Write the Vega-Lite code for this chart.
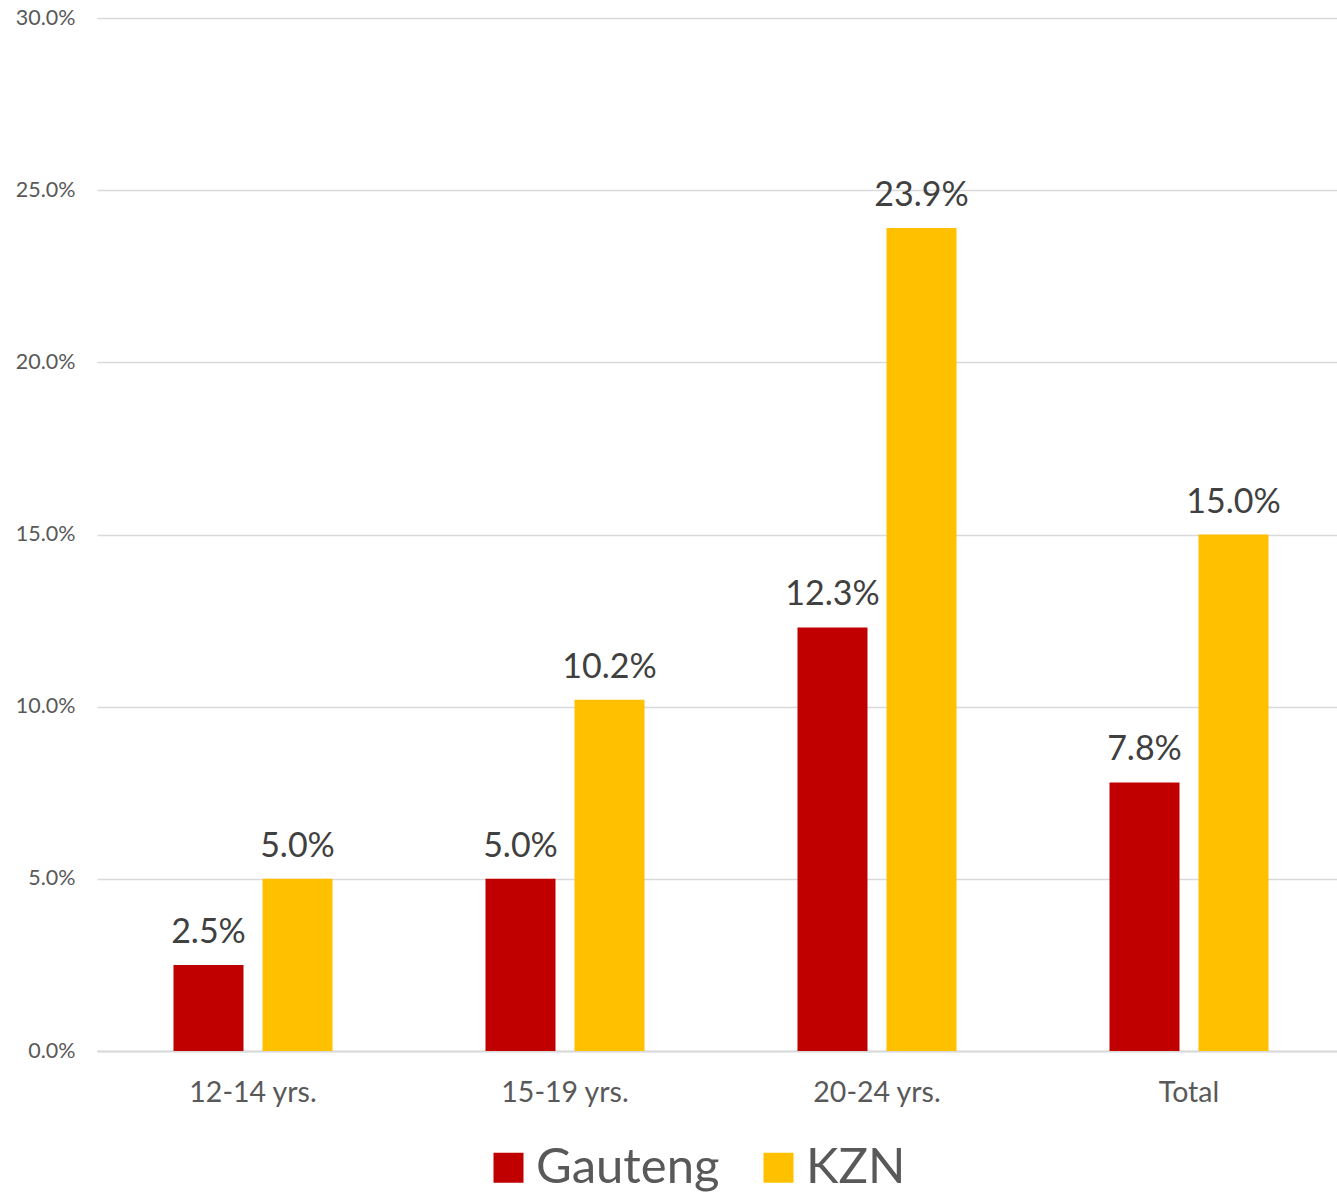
{
  "$schema": "https://vega.github.io/schema/vega-lite/v6.json",
  "width": 1248,
  "height": 1033,
  "autosize": {"type": "none"},
  "padding": {"left": 97, "top": 18, "right": 0, "bottom": 141},
  "background": "white",
  "config": {
    "view": {"stroke": null},
    "font": "Lato"
  },
  "data": {
    "values": [
      {"age": "12-14 yrs.", "region": "Gauteng", "value": 0.025},
      {"age": "12-14 yrs.", "region": "KZN", "value": 0.050},
      {"age": "15-19 yrs.", "region": "Gauteng", "value": 0.050},
      {"age": "15-19 yrs.", "region": "KZN", "value": 0.102},
      {"age": "20-24 yrs.", "region": "Gauteng", "value": 0.123},
      {"age": "20-24 yrs.", "region": "KZN", "value": 0.239},
      {"age": "Total", "region": "Gauteng", "value": 0.078},
      {"age": "Total", "region": "KZN", "value": 0.150}
    ]
  },
  "encoding": {
    "x": {
      "field": "age", "type": "nominal", "sort": null,
      "scale": {"paddingInner": 0.4904, "paddingOuter": 0.2452},
      "axis": {
        "title": null, "labelAngle": 0, "labelFontSize": 28.5, "labelColor": "#595959",
        "ticks": false, "domain": true, "domainColor": "#d9d9d9", "domainWidth": 2,
        "labelPadding": 27
      }
    },
    "xOffset": {
      "field": "region", "type": "nominal",
      "scale": {"paddingInner": 0.2135, "paddingOuter": 0}
    },
    "y": {
      "field": "value", "type": "quantitative",
      "scale": {"domain": [0, 0.3]},
      "axis": {
        "title": null, "format": ".1%", "values": [0, 0.05, 0.1, 0.15, 0.2, 0.25, 0.3],
        "labelFontSize": 21.5, "labelColor": "#595959", "labelPadding": 22,
        "ticks": false, "domain": false, "gridColor": "#d9d9d9", "gridWidth": 1.5
      }
    }
  },
  "layer": [
    {
      "mark": {"type": "bar"},
      "encoding": {
        "color": {
          "field": "region", "type": "nominal",
          "scale": {"domain": ["Gauteng", "KZN"], "range": ["#C00000", "#FFC000"]},
          "legend": {
            "title": null, "orient": "none", "direction": "horizontal",
            "legendX": 387, "legendY": 1125,
            "symbolType": "square", "symbolSize": 900, "symbolStrokeWidth": 0,
            "labelFontSize": 49, "labelColor": "#595959", "labelOffset": 3,
            "labelLimit": 400, "columnPadding": 34
          }
        }
      }
    },
    {
      "mark": {"type": "text", "baseline": "alphabetic", "dy": -22, "fontSize": 34, "color": "#404040"},
      "encoding": {
        "text": {"field": "value", "type": "quantitative", "format": ".1%"}
      }
    }
  ]
}
